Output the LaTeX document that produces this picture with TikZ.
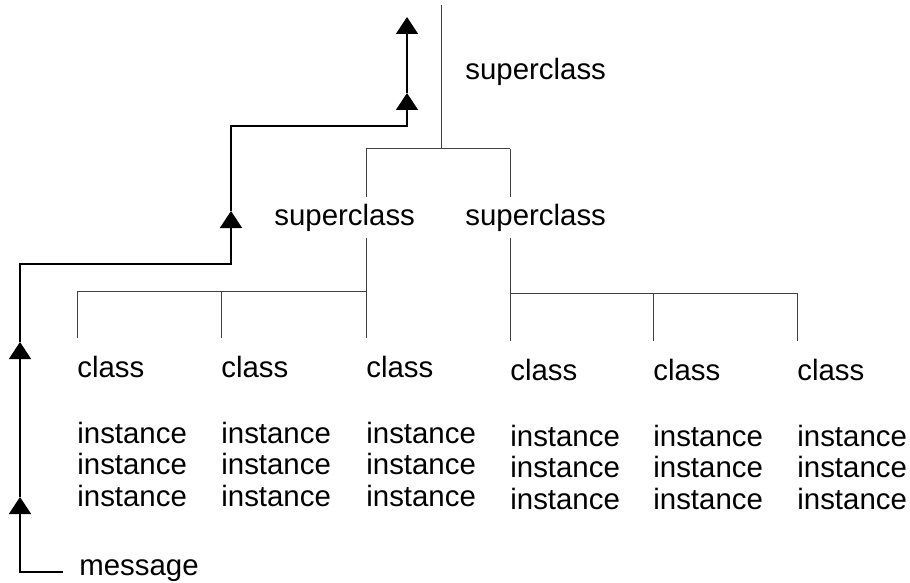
\documentclass[tikz,border=0pt]{standalone}
\usepackage{fontspec}
\setmainfont{Liberation Sans}
\usetikzlibrary{arrows.meta}

\tikzset{
  lbl/.style={anchor=base west, inner xsep=0pt, inner ysep=3pt, font=\fontsize{14.7}{17}\selectfont},
  tree/.style={line width=0.5pt, black!75},
  msg/.style={line width=0.75pt, black, -{Triangle[width=11pt,length=8.5pt]}}
}

\begin{document}
\begin{tikzpicture}[x=0.5pt,y=-0.5pt]
    \useasboundingbox (0,0) rectangle (910,583);

    \node[lbl] (supTop) at (465,80) {superclass};
    \node[lbl] (supL) at (274,225) {superclass};
    \node[lbl] (supR) at (465,225) {superclass};
    \node[lbl] (msgtxt) at (79,575) {message};

    \foreach[count=\i] \x/\y in {77/377,221/377,366/377,510/380,653/380,797/380} {
        \node[lbl] (c\i) at (\x,\y) {class};
        \foreach \k/\d in {1/66,2/97.5,3/129} {
            \node[lbl] (ins\i-\k) at (\x,\y+\d) {instance};
        }
    }

    \coordinate (top) at (441,5);
    \coordinate (jTop) at (441,149);
    \coordinate (jL) at (366,149);
    \coordinate (jR) at (510,149);
    \coordinate (hL) at (366,291);
    \coordinate (hR) at (510,293);

    \draw[tree] (top) -- (jTop);
    \draw[tree] (jL) -- (jR);
    \draw[tree] (jL) -- (jL |- supL.north);
    \draw[tree] (jR) -- (jR |- supR.north);
    \draw[tree,shorten >=5.5pt] (jL |- supL.south) -- (c3.north west);
    \draw[tree,shorten >=5.5pt] (jR |- supR.south) -- (c4.north west);
    \draw[tree,shorten <=5.5pt] (c1.north west) |- (hL);
    \draw[tree,shorten <=5.5pt] (c2.north west) -- (c2.north west |- hL);
    \draw[tree,shorten <=5.5pt] (c6.north west) |- (hR);
    \draw[tree,shorten <=5.5pt] (c5.north west) -- (c5.north west |- hR);

    \coordinate (b1) at (20,572);
    \coordinate (t1) at (20,497);
    \coordinate (t2) at (20,342);
    \coordinate (b2) at (20,264);
    \coordinate (b3) at (231,264);
    \coordinate (t3) at (231,211);
    \coordinate (b4) at (231,126);
    \coordinate (b5) at (407,126);
    \coordinate (t4) at (407,93);
    \coordinate (t5) at (407,17);

    \draw[msg] ([xshift=-8pt,yshift=1.5pt]msgtxt.base west) -- (b1) -- (t1);
    \draw[msg] (t1) -- (t2);
    \draw[msg] (t2) -- (b2) -- (b3) -- (t3);
    \draw[msg] (t3) -- (b4) -- (b5) -- (t4);
    \draw[msg] (t4) -- (t5);
\end{tikzpicture}
\end{document}
